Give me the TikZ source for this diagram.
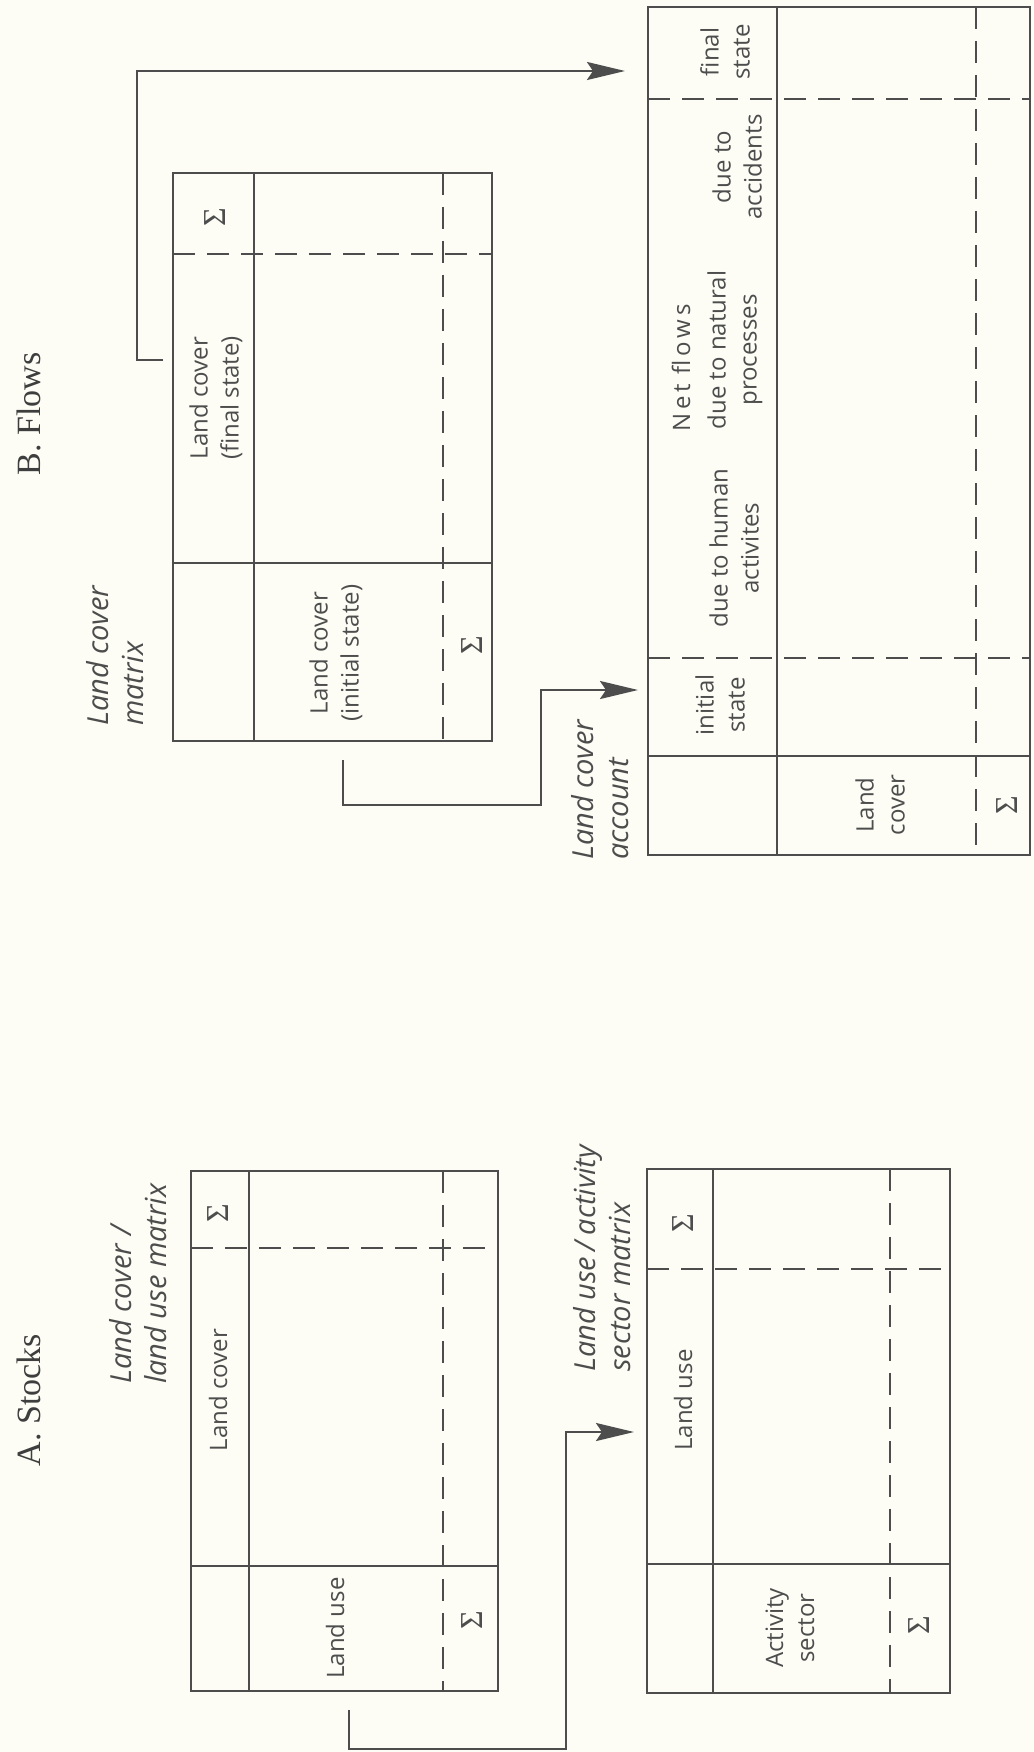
\documentclass[tikz,border=0pt]{standalone}
\usepackage{fontspec}
\setmainfont{Liberation Serif}
\setsansfont{Open Sans}
\usetikzlibrary{arrows.meta,positioning}
\definecolor{inkgray}{HTML}{4D4D4D}
\definecolor{paper}{HTML}{FDFDF6}
\newcommand{\sumsign}{{\rmfamily\fontsize{32}{34}\selectfont Σ}}
\tikzset{
  frameline/.style={draw=inkgray, line width=2.3pt},
  dashline/.style={draw=inkgray, line width=2.1pt, dash pattern=on 22pt off 12pt},
  celltext/.style={rotate=90, align=center, text=inkgray, font=\sffamily\fontsize{24}{31}\selectfont, inner sep=0pt},
  tabletitle/.style={rotate=90, align=left, anchor=west, text=inkgray, font=\sffamily\itshape\fontsize{29}{35}\selectfont, inner sep=0pt},
  parttitle/.style={rotate=90, text=inkgray!80!black, font=\rmfamily\fontsize{34}{40}\selectfont, inner sep=0pt},
  flowarrow/.style={draw=inkgray, line width=2.3pt, -{Stealth[length=38pt,width=18pt,inset=6pt]}}
}

\begin{document}
\begin{tikzpicture}[x=1pt, y=-1pt]
\fill[paper] (0,0) rectangle (1033,1752);
\useasboundingbox (0,0) rectangle (1033,1752);

% part titles
\node[parttitle] (tstocks) at (29,1400) {A. Stocks};
\node[parttitle] (tflows) at (29,414) {B. Flows};

% A: land cover / land use matrix
\node[tabletitle] (lclu) at (138,1384) {Land cover\hspace{0.3em}/\\land use matrix};
\draw[frameline] (191,1171) rectangle (498,1691);
\draw[frameline] (249,1171) -- (249,1691);
\draw[frameline] (191,1566) -- (498,1566);
\draw[dashline] (191,1248) -- (498,1248);
\draw[dashline] (443,1171) -- (443,1691);
\node[celltext] (lclus1) at (218,1213) {\sumsign};
\node[celltext] (lcluc) at (218,1390) {Land cover};
\node[celltext] (lcluu) at (335,1628) {Land use};
\node[celltext] (lclus2) at (472,1620) {\sumsign};

% A: land use / activity sector matrix
\node[tabletitle] (luas) at (602,1372) {Land use\hspace{0.2em}/\hspace{0.2em}activity\\sector matrix};
\draw[frameline] (647,1169) rectangle (950,1693);
\draw[frameline] (713,1169) -- (713,1693);
\draw[frameline] (647,1564) -- (950,1564);
\draw[dashline] (647,1269) -- (950,1269);
\draw[dashline] (890,1169) -- (890,1693);
\node[celltext] (luass1) at (683,1223) {\sumsign};
\node[celltext] (luasu) at (683,1400) {Land use};
\node[celltext] (luasa) at (790,1628) {Activity\\sector};
\node[celltext] (luass2) at (919,1625) {\sumsign};

% B: land cover matrix
\node[tabletitle] (lcm) at (115,726) {Land cover\\matrix};
\draw[frameline] (173,173) rectangle (492,741);
\draw[frameline] (254,173) -- (254,741);
\draw[frameline] (173,563) -- (492,563);
\draw[dashline] (173,254) -- (492,254);
\draw[dashline] (443,173) -- (443,741);
\node[celltext] (lcms1) at (215,217) {\sumsign};
\node[celltext] (lcmf) at (216,398) {Land cover\\(final state)};
\node[celltext] (lcmi) at (336,653) {Land cover\\(initial state)};
\node[celltext] (lcms2) at (472,645) {\sumsign};

% B: land cover account
\node[tabletitle] (lca) at (600,860) {Land cover\\account};
\draw[frameline] (648,7) rectangle (1030,855);
\draw[frameline] (777,7) -- (777,855);
\draw[frameline] (648,756) -- (1030,756);
\draw[dashline] (648,99) -- (1030,99);
\draw[dashline] (648,658) -- (1030,658);
\draw[dashline] (976,7) -- (976,855);
\node[celltext] (lcafin) at (725,52) {final\\state};
\node[celltext] (lcaacc) at (737,167) {due to\\accidents};
\node[celltext] (lcanat) at (735,350) {due to natural\\processes};
\node[celltext] (lcanet) at (681,368) {\addfontfeature{LetterSpace=16}Net flows};
\node[celltext] (lcahum) at (734,548) {due to human\\activites};
\node[celltext] (lcaini) at (720,705) {initial\\state};
\node[celltext] (lcacov) at (880,805) {Land\\cover};
\node[celltext] (lcas) at (1007,805) {\sumsign};

% connectors
\coordinate (lcluout) at (349,1710);
\coordinate (luasin) at (634,1432);
\draw[flowarrow] (lcluout) |- (566,1749) |- (luasin);

\coordinate (lcmfout) at (163,360);
\coordinate (lcafinin) at (625,71);
\draw[flowarrow] (lcmfout) -| (137,71) -- (lcafinin);

\coordinate (lcmiout) at (343,760);
\coordinate (lcainiin) at (638,690);
\draw[flowarrow] (lcmiout) |- (541,805) |- (lcainiin);
\end{tikzpicture}
\end{document}
